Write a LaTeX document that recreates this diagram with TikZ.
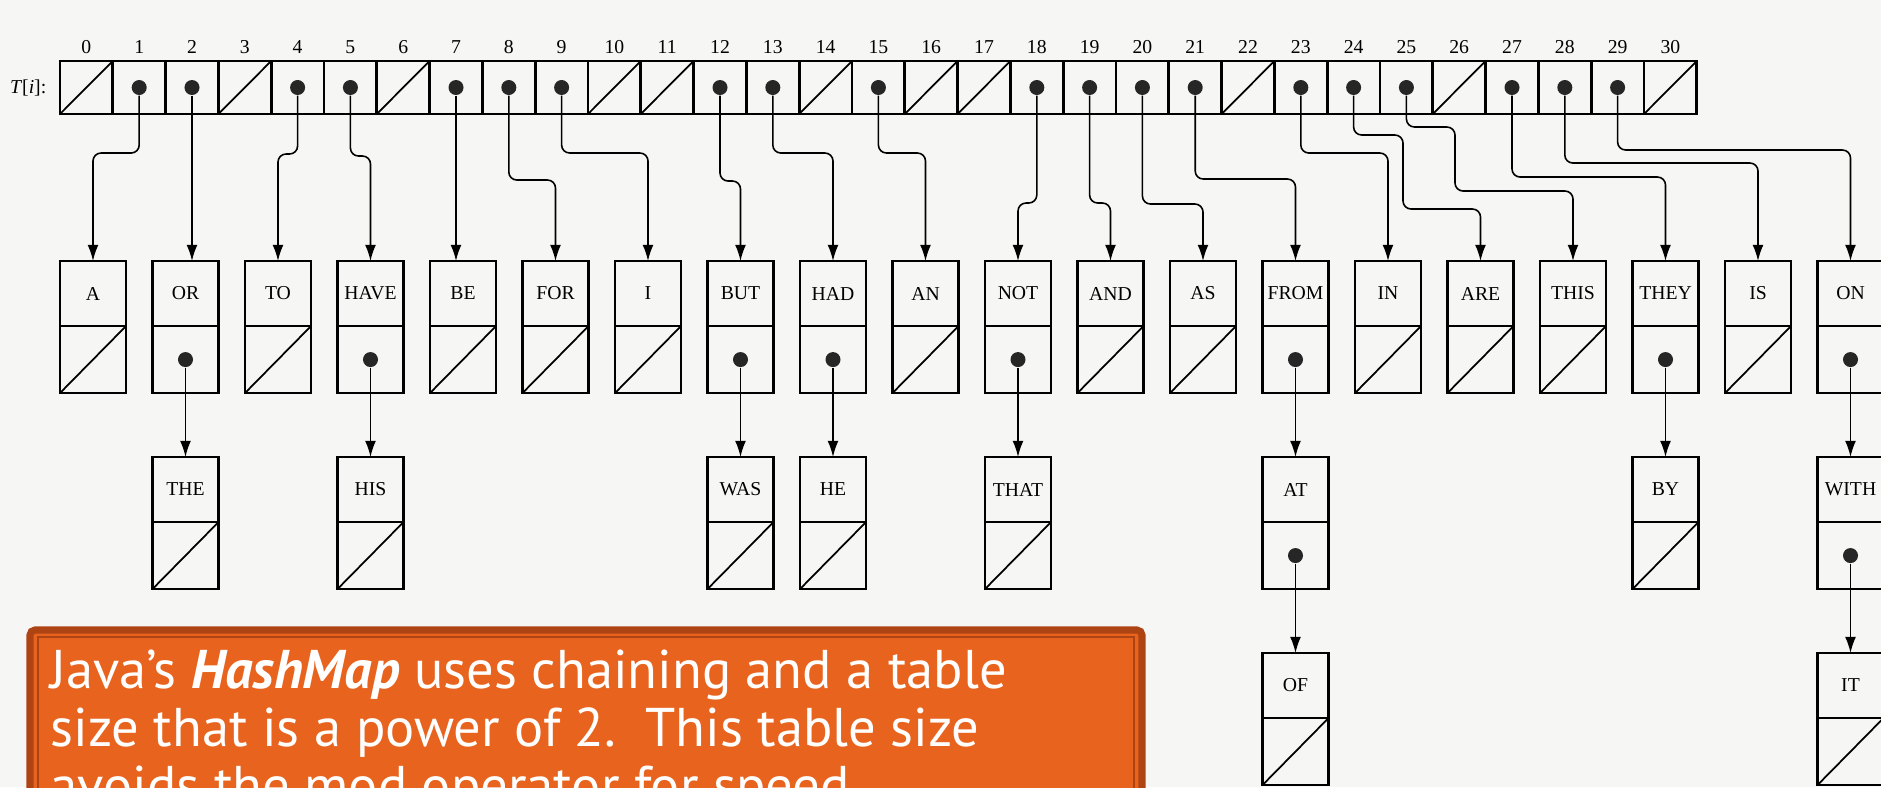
\documentclass[tikz,border=0pt]{standalone}
\usepackage{fontspec}
\setmainfont{Liberation Serif}
\newfontfamily\notefont{PT Sans}
\usepackage{xcolor}
\usepackage{tikz}
\usetikzlibrary{arrows.meta,positioning,calc}
\definecolor{paper}{HTML}{F6F6F4}
\definecolor{noteorange}{HTML}{E8641E}
\definecolor{noteedge}{HTML}{AE4413}
\newcommand{\tabfont}{\fontsize{5.6}{6.5}\selectfont}

\begin{document}
\begin{tikzpicture}[
    x=0.01cm, y=-0.01cm,
    >={Latex[length=4.6pt,width=3.1pt]},
    cell/.style={draw, line width=0.8pt, minimum width=0.528cm, minimum height=0.53cm, inner sep=0pt, outer sep=0pt},
    wordbox/.style={draw, line width=0.6pt, minimum width=0.66cm, minimum height=0.65cm, inner sep=0pt, outer sep=0pt, font=\tabfont},
    linkbox/.style={draw, line width=0.6pt, minimum width=0.66cm, minimum height=0.67cm, inner sep=0pt, outer sep=0pt},
    ptrdot/.style={circle, fill=black!85, inner sep=0pt, minimum size=0.15cm},
    nilline/.style={line width=0.5pt},
    ptr/.style={->, line width=0.45pt, rounded corners=0.08cm},
    idx/.style={font=\tabfont, inner sep=0pt}
]
\useasboundingbox (0,0) rectangle (1881,787);
\fill[paper] (0,0) rectangle (1881,787);
\clip (0,0) rectangle (1881,787);

\foreach \i in {0,...,30}
  \node[cell] (c\i) at ({86.4+52.8*\i}, 87.5) {};
\foreach \i in {0,...,30}
  \node[idx] (n\i) at (c\i |- 0,47) {\i};
\node[idx, left=0.13cm of c0] (tlabel) {\textit{T}[\textit{i}]:};
\foreach \i in {0,3,6,10,11,14,16,17,22,26,30}
  \draw[nilline] (c\i.south west) -- (c\i.north east);
\foreach \i in {1,2,4,5,7,8,9,12,13,15,18,19,20,21,23,24,25,27,28,29}
  \node[ptrdot] (d\i) at (c\i) {};

\foreach \w/\k/\r/\s in {A/0/0/0, OR/1/0/1, TO/2/0/0, HAVE/3/0/1, BE/4/0/0, FOR/5/0/0, I/6/0/0,
    BUT/7/0/1, HAD/8/0/1, AN/9/0/0, NOT/10/0/1, AND/11/0/0, AS/12/0/0, FROM/13/0/1, IN/14/0/0,
    ARE/15/0/0, THIS/16/0/0, THEY/17/0/1, IS/18/0/0, ON/19/0/1, THE/1/1/0, HIS/3/1/0, WAS/7/1/0,
    HE/8/1/0, THAT/10/1/0, AT/13/1/1, BY/17/1/0, WITH/19/1/1, OF/13/2/0, IT/19/2/0} {
  \node[wordbox, anchor=north] (w-\w) at ({93+92.5*\k}, {261+196*\r}) {\w};
  \node[linkbox, below=0pt of w-\w] (p-\w) {};
  \ifnum\s=1
    \node[ptrdot] (d-\w) at (p-\w) {};
  \else
    \draw[nilline] (p-\w.south west) -- (p-\w.north east);
  \fi
}

\foreach \c/\w in {2/OR, 7/BE}
  \draw[ptr] (d\c.south) -- (d\c |- w-\w.north);
\foreach \c/\w/\j in {1/A/153, 4/TO/154, 5/HAVE/156, 8/FOR/180, 9/I/153, 12/BUT/181, 13/HAD/153,
    15/AN/153, 18/NOT/203, 19/AND/203, 20/AS/204, 21/FROM/179, 23/IN/153, 27/THEY/177, 28/IS/163, 29/ON/150}
  \draw[ptr] (d\c.south) -- (d\c |- 0,\j) -- (w-\w.north |- 0,\j) -- (w-\w.north);
\draw[ptr] (d24.south) -- (d24 |- 0,135) -- (1403,135) -- (1403,209) -- (w-ARE.north |- 0,209) -- (w-ARE.north);
\draw[ptr] (d25.south) -- (d25 |- 0,127) -- (1455,127) -- (1455,191) -- (w-THIS.north |- 0,191) -- (w-THIS.north);
\foreach \a/\b in {OR/THE, HAVE/HIS, BUT/WAS, HAD/HE, NOT/THAT, FROM/AT, THEY/BY, ON/WITH, AT/OF, WITH/IT}
  \draw[ptr] (d-\a.south) -- (w-\b.north);

\draw[noteedge, line width=2pt, fill=noteorange, rounded corners=0.05cm] (30,630) rectangle (1142,830);
\draw[noteedge, line width=0.5pt] (38,637) rectangle (1134,830);
\node[anchor=north west, inner sep=0pt, align=left, text=white, font=\notefont\fontsize{15.5}{16.5}\selectfont] (note) at (50,649)
  {Java’s \textbf{\textit{HashMap}} uses chaining and a table\\ size that is a power of 2.\ \ This table size\\ avoids the mod operator for speed.};
\end{tikzpicture}
\end{document}
